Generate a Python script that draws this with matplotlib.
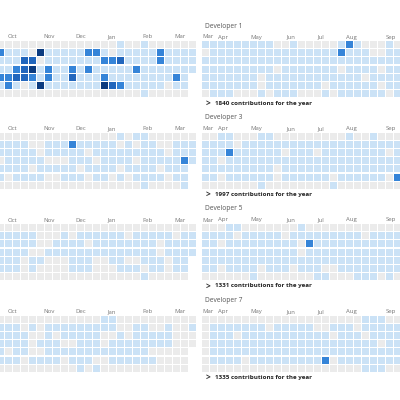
import matplotlib
matplotlib.use("Agg")
import matplotlib.pyplot as plt
from matplotlib.patches import Rectangle

titles = ["Developer 1", "Developer 3", "Developer 5", "Developer 7"]
totals = [1840, 1997, 1331, 1335]
left_months = ["Oct", "Nov", "Dec", "Jan", "Feb", "Mar"]
left_month_cols = [0.9, 5.4, 9.4, 13.4, 17.8, 21.8]
right_months = ["Mar", "Apr", "May", "Jun", "Jul", "Aug", "Sep"]
right_month_cols = [0, 2, 6, 10.6, 14.5, 18, 22.9]

# contribution levels per week column ('.' = no day)
left_grids = [
    ["0000000000000001001000000",
     "2111041111122101111121111",
     "1113301111111223111121111",
     "1123412112121111121111111",
     "223321211311121111111121.",
     "121014111111143211111011.",
     "000000000000000000100000."],
    ["0000000000000001011000000",
     "1111001112111110101100111",
     "1111101111101111111110111",
     "0111110001110111101111121",
     "111101111101111011110111.",
     "101111001110110101111011.",
     "000000000000000000100001."],
    ["0000000000000000000000000",
     "1111100010111111011111011",
     "1111100111101111111101111",
     "1111001111111111111101111",
     "111011000111001100111011.",
     "111010000111000111011011.",
     "000000000000000000100000."],
    ["0000000000000110000000000",
     "1110101111111110011001001",
     "1111001011111001011111000",
     "1111011100111011111111000",
     "101100111111111111100000.",
     "111011110111001111110000.",
     "000000000010100000000000."],
]
right_grids = [
    ["1111111110010000012100010",
     "0111111111111111121110011",
     "1111111111111111111111111",
     "1111111110111111101111011",
     "1111111011111111111101111",
     "1111111011111110111111011",
     "0111000101110001011111101"],
    ["0011000110000000001001000",
     "1111011111111111111111111",
     "1112111111011101111111101",
     "1101111111111111111111111",
     "1111111110111111111111111",
     "1101111110111111011111102",
     "0000000100000000100000000"],
    ["0001100000001000000000000",
     "1111011111011111111101111",
     "1101111111110211111111111",
     "1111111111110111111111111",
     "1111111111111111111111111",
     "1101111011101110011111111",
     "0000001000000011000111010"],
    ["0000000000000000000011100",
     "0111111101111100111011111",
     "0111011111111111011101111",
     "0111111111111111111111011",
     "0111111111111111111111111",
     "0111101111111112011111111",
     "0000000000000000000011100"],
]

colors = {"0": "#ebebeb", "1": "#cbe2f6", "2": "#3584d8", "3": "#2166bd", "4": "#0b3b80"}

fig = plt.figure(figsize=(4, 4), dpi=100)
ax = fig.add_axes([0, 0, 1, 1])
ax.set_xlim(0, 400)
ax.set_ylim(400, 0)
ax.axis("off")

PX, PY, CW, CH = 8.0, 8.2, 6.8, 7.0
LX0, RX0 = -3.0, 202.0
font = "Open Sans"

def draw_grid(grid, x0, top):
    for r, row in enumerate(grid):
        for c, ch in enumerate(row):
            if ch == ".":
                continue
            ax.add_patch(Rectangle((x0 + c * PX, top + r * PY), CW, CH,
                                   facecolor=colors[ch], edgecolor="none"))

for b in range(4):
    top = 41 + 91.5 * b
    draw_grid(left_grids[b], LX0, top)
    draw_grid(right_grids[b], RX0, top)
    for m, c in zip(left_months, left_month_cols):
        ax.text(LX0 + 3 + c * PX, top - 1.5, m, fontsize=4.3, color="#777777",
                family=font, va="bottom", ha="left")
    for m, c in zip(right_months, right_month_cols):
        ax.text(RX0 + c * PX, top - 1.5, m, fontsize=4.3, color="#777777",
                family=font, va="bottom", ha="left")
    ax.text(205, top - 15, titles[b], fontsize=4.8, color="#555555",
            family=font, va="center", ha="left")
    ax.text(206, top + 62, ">", fontsize=6, color="#333333", family=font,
            fontweight="bold", va="center", ha="left")
    ax.text(215, top + 62, f"{totals[b]} contributions for the year",
            fontsize=4.5, color="#222222", family=font, fontweight="bold",
            va="center", ha="left")

fig.savefig("out.png", dpi=100)
